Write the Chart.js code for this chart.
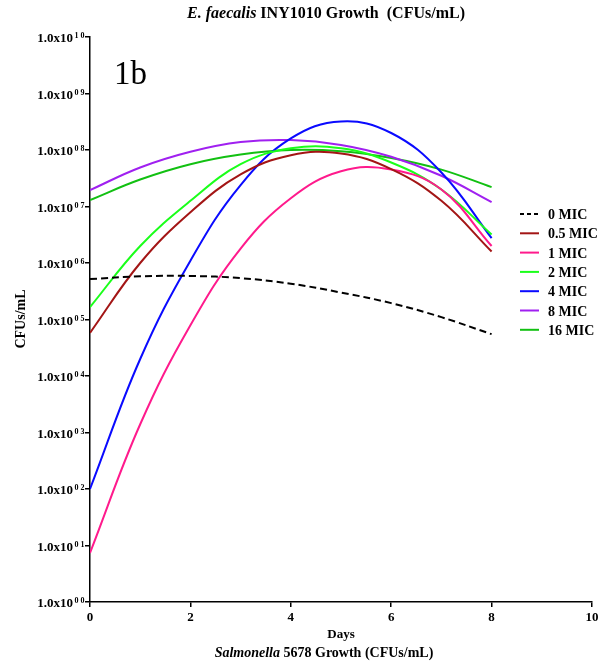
<!DOCTYPE html>
<html>
<head>
<meta charset="utf-8">
<script src="https://cdn.jsdelivr.net/npm/chart.js@4.4.1/dist/chart.umd.min.js"></script>
<style>
    html, body { margin: 0; padding: 0; background: #fff; }
</style>
</head>
<body>
<canvas id="growthChart" width="608" height="664"></canvas>
<script>
// البيانات (CFUs/mL) مقروءة من الشكل
const days = [0, 1, 2, 3, 4, 5, 6, 7, 8];
const mic0 = [5.2e5, 5.8e5, 5.9e5, 5.4e5, 4.3e5, 3.0e5, 1.95e5, 1.1e5, 5.5e4];
const mic05 = [5.8e4, 1.0e6, 7.9e6, 3.7e7, 8.1e7, 8.7e7, 4.6e7, 1.26e7, 1.6e6];
const mic1 = [7.4, 1.4e3, 7.9e4, 1.8e6, 1.4e7, 4.2e7, 4.5e7, 2.0e7, 2.0e6];
const mic2 = [1.66e5, 2.0e6, 1.26e7, 5.6e7, 1.07e8, 1.07e8, 6.0e7, 2.0e7, 3.2e6];
const mic4 = [100, 2.0e4, 1.1e6, 2.4e7, 1.6e8, 3.2e8, 2.0e8, 4.0e7, 2.75e6];
const mic8 = [1.95e7, 4.9e7, 9.3e7, 1.38e8, 1.5e8, 1.23e8, 7.6e7, 3.5e7, 1.2e7];
const mic16 = [1.3e7, 3.0e7, 5.6e7, 8.3e7, 1.0e8, 9.5e7, 7.2e7, 4.5e7, 2.2e7];

const seriesLabels = ['0 MIC', '0.5 MIC', '1 MIC', '2 MIC', '4 MIC', '8 MIC', '16 MIC'];
const seriesValues = [mic0, mic05, mic1, mic2, mic4, mic8, mic16];
const seriesColors = ['#000000', '#a31515', '#ff1a8c', '#1aff1a', '#0a0aff', '#a020f0', '#12c012'];

const xTicks = [0, 2, 4, 6, 8, 10];
const yTickExponents = [0, 1, 2, 3, 4, 5, 6, 7, 8, 9, 10];

const serif = '"Liberation Serif", "Times New Roman", serif';

// رسم نص بأجزاء مختلفة الخط
function drawRuns(ctx, runs, cx, y) {
    let total = 0;
    runs.forEach(r => { ctx.font = r.font; total += ctx.measureText(r.text).width; });
    let x = cx - total / 2;
    ctx.textAlign = 'left';
    runs.forEach(r => {
        ctx.font = r.font;
        ctx.fillText(r.text, x, y);
        x += ctx.measureText(r.text).width;
    });
}

const decorPlugin = {
    id: 'decor',
    afterDraw(chart) {
        const ctx = chart.ctx;
        const yScale = chart.scales.y;
        const area = chart.chartArea;
        ctx.save();
        ctx.fillStyle = '#000';
        ctx.textBaseline = 'alphabetic';

        // تسميات المحور الصادي
        yTickExponents.forEach(e => {
            const py = yScale.getPixelForValue(Math.pow(10, e));
            ctx.font = 'bold 13px ' + serif;
            ctx.textAlign = 'right';
            ctx.fillText('1.0x10', 73, py + 5);
            const sup = String(e).padStart(2, '0');
            ctx.font = 'bold 8px ' + serif;
            ctx.textAlign = 'left';
            ctx.fillText(sup[0], 74.5, py + 1);
            ctx.fillText(sup[1], 80.5, py + 1);
        });

        // العنوان
        drawRuns(ctx, [
            { text: 'E. faecalis', font: 'italic bold 16px ' + serif },
            { text: ' INY1010 Growth  (CFUs/mL)', font: 'bold 16px ' + serif }
        ], 326, 18);

        // عنوان المحور السيني
        const cx = (area.left + area.right) / 2;
        ctx.font = 'bold 13px ' + serif;
        ctx.textAlign = 'center';
        ctx.fillText('Days', cx, 638);
        drawRuns(ctx, [
            { text: 'Salmonella', font: 'italic bold 14px ' + serif },
            { text: ' 5678 Growth (CFUs/mL)', font: 'bold 14px ' + serif }
        ], 324, 657);

        // عنوان المحور الصادي
        ctx.save();
        ctx.translate(25, 319);
        ctx.rotate(-Math.PI / 2);
        ctx.font = 'bold 14px ' + serif;
        ctx.textAlign = 'center';
        ctx.fillText('CFUs/mL', 0, 0);
        ctx.restore();

        // 1b
        ctx.font = '33px ' + serif;
        ctx.textAlign = 'left';
        ctx.fillText('1b', 114, 84);

        // وسيلة الإيضاح
        seriesLabels.forEach((lab, i) => {
            const ly = 214 + i * 19.3;
            ctx.beginPath();
            ctx.strokeStyle = seriesColors[i];
            ctx.lineWidth = 2;
            ctx.setLineDash(i === 0 ? [4, 3] : []);
            ctx.moveTo(520, ly);
            ctx.lineTo(539, ly);
            ctx.stroke();
            ctx.setLineDash([]);
            ctx.font = 'bold 14px ' + serif;
            ctx.fillText(lab, 548, ly + 5);
        });
        ctx.restore();
    }
};

const ctx = document.getElementById('growthChart').getContext('2d');
const growthChart = new Chart(ctx, {
    type: 'line',
    data: {
        datasets: seriesLabels.map((lab, i) => ({
            label: lab,
            data: days.map((d, j) => ({ x: d, y: seriesValues[i][j] })),
            borderColor: seriesColors[i],
            borderWidth: 2,
            borderDash: i === 0 ? [7, 4] : [],
            pointRadius: 0,
            tension: 0.4,
            fill: false
        }))
    },
    options: {
        responsive: false,
        animation: false,
        layout: { padding: { left: 0, right: 16, top: 37, bottom: 0 } },
        plugins: {
            legend: { display: false },
            title: { display: false },
            tooltip: { enabled: false }
        },
        scales: {
            x: {
                type: 'linear',
                min: 0,
                max: 10,
                afterBuildTicks: axis => { axis.ticks = xTicks.map(v => ({ value: v })); },
                afterFit: axis => { axis.height = 62; },
                grid: { drawOnChartArea: false, drawTicks: true, tickLength: 5, color: '#000', lineWidth: 1.5 },
                border: { color: '#000', width: 1.5 },
                ticks: { color: '#000', font: { family: serif, size: 13, weight: 'bold' }, padding: 3 }
            },
            y: {
                type: 'logarithmic',
                min: 1,
                max: 1e10,
                afterBuildTicks: axis => { axis.ticks = yTickExponents.map(e => ({ value: Math.pow(10, e) })); },
                afterFit: axis => { axis.width = 90; },
                grid: { drawOnChartArea: false, drawTicks: true, tickLength: 5, color: '#000', lineWidth: 1.5 },
                border: { color: '#000', width: 1.5 },
                ticks: { display: false }
            }
        }
    },
    plugins: [decorPlugin]
});
</script>
</body>
</html>
